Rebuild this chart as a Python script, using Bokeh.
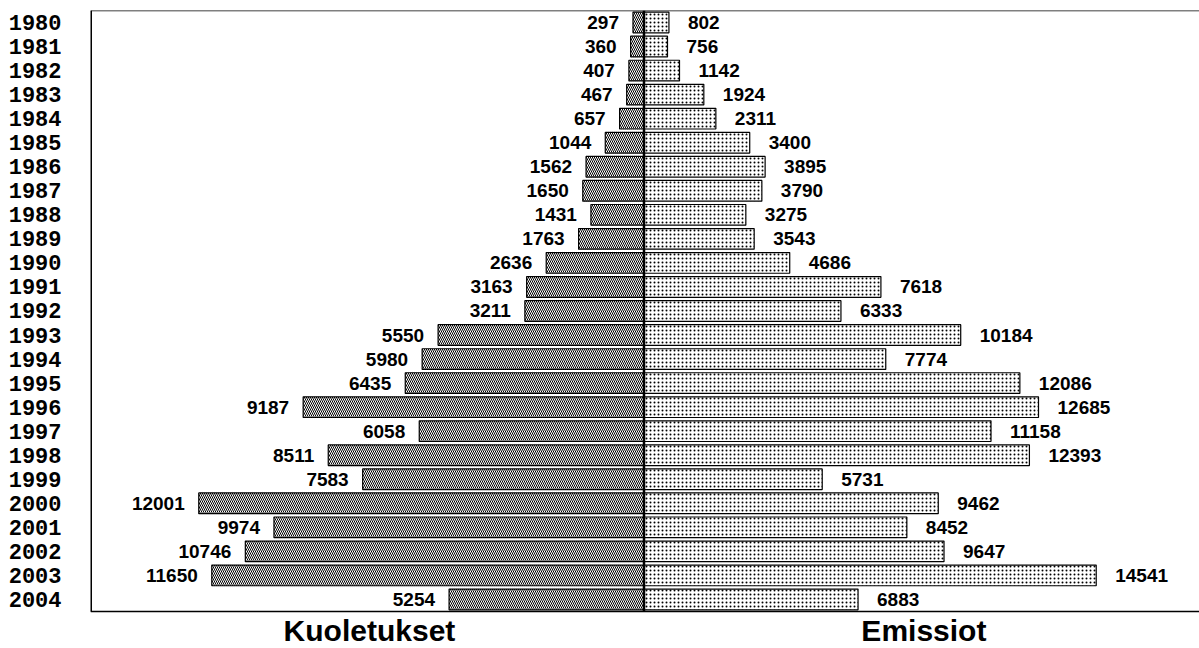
from bokeh.plotting import figure
from bokeh.models import (ColumnDataSource, Range1d, FixedTicker, Span)
from bokeh.core.properties import value
from bokeh.embed import file_html
from bokeh.resources import INLINE

years = [1980, 1981, 1982, 1983, 1984, 1985, 1986, 1987, 1988, 1989,
         1990, 1991, 1992, 1993, 1994, 1995, 1996, 1997, 1998, 1999,
         2000, 2001, 2002, 2003, 2004]
kuoletukset = [297, 360, 407, 467, 657, 1044, 1562, 1650, 1431, 1763,
               2636, 3163, 3211, 5550, 5980, 6435, 9187, 6058, 8511, 7583,
               12001, 9974, 10746, 11650, 5254]
emissiot = [802, 756, 1142, 1924, 2311, 3400, 3895, 3790, 3275, 3543,
            4686, 7618, 6333, 10184, 7774, 12086, 12685, 11158, 12393, 5731,
            9462, 8452, 9647, 14541, 6883]
left_title = "Kuoletukset"
right_title = "Emissiot"

idx = list(range(len(years)))
src = ColumnDataSource(dict(
    y=idx,
    kneg=[-v for v in kuoletukset],
    e=emissiot,
    ktxt=[str(v) for v in kuoletukset],
    etxt=[str(v) for v in emissiot],
))

n = len(years)
x_lo = -14919
xr_left = Range1d(x_lo, 14973)
xr_right = Range1d(-17797, 17862)
bottom = n - 0.5

p = figure(width=1199, height=648, output_backend="svg", toolbar_location=None,
           x_range=xr_left, y_range=Range1d(bottom + 1.54, -0.5),
           x_axis_location=None, min_border_left=90, min_border_right=0,
           min_border_top=10, min_border_bottom=0)
p.extra_x_ranges = {"right": xr_right}
p.outline_line_color = None
p.grid.visible = False

ax = p.yaxis[0]
ax.ticker = FixedTicker(ticks=idx)
ax.major_label_overrides = {i: str(y) for i, y in zip(idx, years)}
ax.major_tick_line_color = None
ax.minor_tick_line_color = None
ax.major_label_standoff = 23
ax.major_label_text_font = "Liberation Mono"
ax.major_label_text_font_style = "bold"
ax.major_label_text_font_size = "22px"
ax.major_label_text_color = "black"
ax.axis_line_color = None

# left bars (Kuoletukset)
p.hbar(y="y", left="kneg", right=0, height=0.86, source=src,
       fill_color="white", line_color="black", line_width=1.2,
       hatch_pattern="\\", hatch_scale=4, hatch_weight=1, hatch_color="black")
# right bars (Emissiot)
p.hbar(y="y", left=0, right="e", height=0.86, source=src, x_range_name="right",
       fill_color="white", line_color="black", line_width=1.2,
       hatch_pattern="dot", hatch_scale=4, hatch_weight=1.2, hatch_color="black")

p.text(x="kneg", y="y", text="ktxt", source=src, text_align="right",
       text_baseline="middle", x_offset=-14,
       text_font=value("Liberation Sans"), text_font_style="bold",
       text_font_size="19px", text_color="black")
p.text(x="e", y="y", text="etxt", source=src, text_align="left",
       text_baseline="middle", x_offset=19, x_range_name="right",
       text_font=value("Liberation Sans"), text_font_style="bold",
       text_font_size="19px", text_color="black")

# frame lines and centre line
p.segment(x0=[0], y0=[-0.5], x1=[0], y1=[bottom], line_color="black", line_width=2.5)
p.segment(x0=[x_lo], y0=[-0.5], x1=[x_lo], y1=[bottom], line_color="black", line_width=3)
p.add_layout(Span(location=-0.5, dimension="width", line_color="black", line_width=1.5))
p.add_layout(Span(location=bottom, dimension="width", line_color="black", line_width=1.5))

# bottom titles
p.text(x=[-7400], y=[bottom + 0.81], text=[left_title], text_align="center",
       text_baseline="middle", text_font=value("Liberation Sans"),
       text_font_style="bold", text_font_size="30px", text_color="black")
p.text(x=[9000], y=[bottom + 0.81], text=[right_title], text_align="center",
       text_baseline="middle", x_range_name="right",
       text_font=value("Liberation Sans"), text_font_style="bold",
       text_font_size="30px", text_color="black")

open("out.html", "w").write(file_html(p, INLINE))
